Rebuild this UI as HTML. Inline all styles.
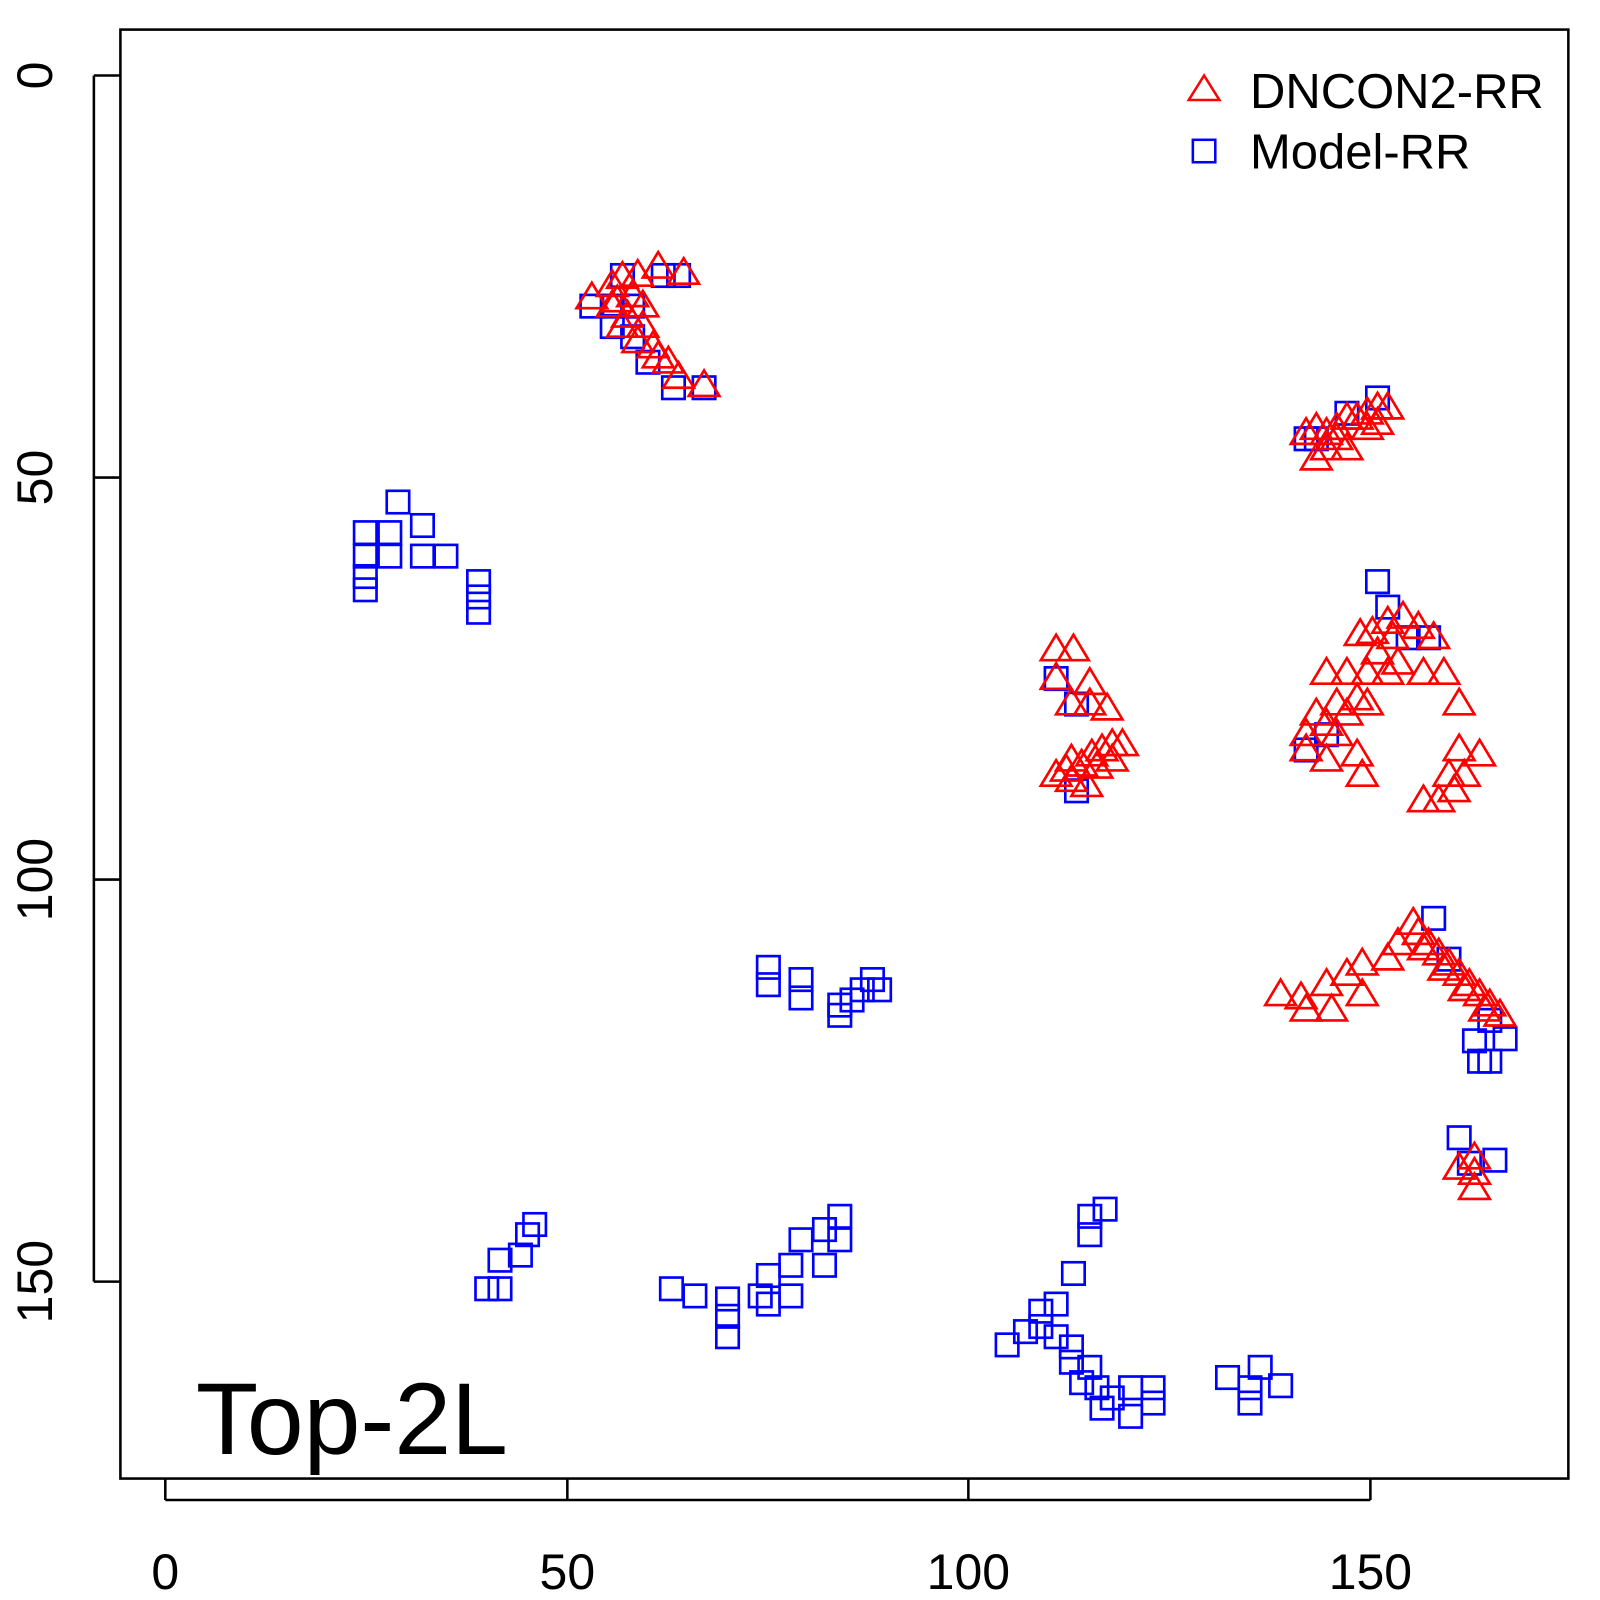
<!DOCTYPE html>
<html><head><style>body{margin:0;background:#fff}svg{display:block}</style></head>
<body>
<svg width="1600" height="1600" xmlns="http://www.w3.org/2000/svg" font-family="Liberation Sans, sans-serif">
<g transform="scale(1.0204)">
<rect x="118" y="29" width="1419" height="1420" fill="none" stroke="#000" stroke-width="2.5"/>
<g stroke="#000" stroke-width="2.5">
<line x1="162" y1="1449" x2="162" y2="1470"/><line x1="556" y1="1449" x2="556" y2="1470"/><line x1="949" y1="1449" x2="949" y2="1470"/><line x1="1343" y1="1449" x2="1343" y2="1470"/>
<line x1="162" y1="1470" x2="1343" y2="1470"/>
<line x1="118" y1="74" x2="92" y2="74"/><line x1="118" y1="468" x2="92" y2="468"/><line x1="118" y1="862" x2="92" y2="862"/><line x1="118" y1="1256" x2="92" y2="1256"/>
<line x1="92" y1="74" x2="92" y2="1256"/>
</g>
<g font-size="49" text-anchor="middle">
<text x="162" y="1557">0</text><text x="556" y="1557">50</text><text x="949" y="1557">100</text><text x="1343" y="1557">150</text>
<text transform="translate(51,74) rotate(-90)">0</text>
<text transform="translate(51,468) rotate(-90)">50</text>
<text transform="translate(51,862) rotate(-90)">100</text>
<text transform="translate(51,1256) rotate(-90)">150</text>
</g>
<text x="192" y="1425" font-size="100">Top-2L</text>
<polygon points="1180,74 1165,98 1195,98" fill="none" stroke="#f00" stroke-width="2.5"/>
<text x="1225" y="106" font-size="48">DNCON2-RR</text>
<rect x="1169" y="137" width="22" height="22" fill="none" stroke="#00f" stroke-width="2.5"/>
<text x="1225" y="165" font-size="48">Model-RR</text>
<g id="sq" fill="none" stroke="#00f" stroke-width="2.6"></g>
<g id="tr" fill="none" stroke="#f00" stroke-width="2.6"></g>
</g>
</svg>
<script>
var sq=[[580,300],[610,270],[650,270],[665,270],[600,320],[620,330],[635,355],[660,380],[690,380],[600,300],[620,300],
[358,522],[358,545],[358,565],[358,578],[382,522],[382,545],[390,492],[414,515],[414,545],[437,545],[469,570],[469,585],[469,600],
[1350,390],[1320,405],[1290,430],[1280,430],[1035,665],[1055,690],[1055,775],
[1350,570],[1360,595],[1380,625],[1400,625],[1280,735],[1300,720],
[1405,900],[1420,940],[1445,1020],[1460,1040],[1475,1018],[1450,1040],[1460,1000],[1430,1115],[1440,1140],[1465,1137],
[753,948],[753,965],[785,960],[785,978],[823,985],[823,995],[835,980],[845,970],[855,960],[862,970],
[477,1263],[490,1263],[490,1235],[510,1230],[517,1210],[524,1200],[658,1263],[681,1270],[713,1273],[713,1290],[713,1310],[745,1270],[753,1250],[753,1278],[775,1270],[775,1240],[785,1215],[808,1205],[808,1240],[823,1192],[823,1215],
[987,1318],[1005,1305],[1020,1300],[1020,1285],[1035,1278],[1035,1310],[1050,1320],[1050,1335],[1068,1340],[1068,1210],[1068,1192],[1083,1185],[1052,1248],[1060,1355],[1075,1360],[1090,1370],[1108,1360],[1108,1388],[1130,1360],[1130,1375],[1203,1350],[1225,1360],[1225,1375],[1235,1340],[1255,1358],[1080,1380]];
var tr=[[580,292],[610,272],[625,270],[645,262],[670,268],[600,300],[615,310],[630,320],[640,340],[655,355],[665,370],[690,378],[600,280],[620,290],[605,295],[630,300],[610,320],[625,335],[645,350],
[1280,425],[1290,420],[1300,425],[1310,420],[1320,410],[1330,410],[1340,405],[1350,400],[1360,400],[1290,450],[1320,440],[1300,440],[1340,420],[1310,430],[1350,415],
[1035,637],[1052,637],[1035,665],[1068,670],[1050,690],[1068,690],[1085,695],[1035,760],[1050,765],[1060,750],[1070,740],[1080,735],[1090,730],[1100,730],[1050,745],[1065,770],[1045,755],[1075,752],[1090,745],
[1333,622],[1345,620],[1360,610],[1375,605],[1390,615],[1405,625],[1300,660],[1320,660],[1340,660],[1360,660],[1395,660],[1415,660],[1430,690],[1280,720],[1300,710],[1310,690],[1320,700],[1330,685],[1340,690],[1300,745],[1335,760],[1330,740],[1280,735],[1395,785],[1410,785],[1425,775],[1435,760],[1450,740],[1430,735],[1420,760],[1365,625],[1350,640],[1370,650],[1310,720],[1290,700],
[1255,975],[1275,978],[1300,965],[1320,955],[1335,945],[1360,940],[1370,925],[1385,905],[1390,915],[1400,925],[1410,935],[1420,945],[1430,955],[1440,965],[1450,975],[1460,985],[1470,995],[1335,975],[1305,990],[1280,990],[1395,930],[1415,950],[1435,970],[1455,990],
[1445,1135],[1445,1150],[1445,1165],[1430,1145]];
var ns="http://www.w3.org/2000/svg",g=document.getElementById("sq"),h=document.getElementById("tr");
sq.forEach(function(p){var r=document.createElementNS(ns,"rect");r.setAttribute("x",p[0]-11);r.setAttribute("y",p[1]-11);r.setAttribute("width",22);r.setAttribute("height",22);g.appendChild(r);});
tr.forEach(function(p){var r=document.createElementNS(ns,"polygon");r.setAttribute("points",p[0]+","+(p[1]-15)+" "+(p[0]-15)+","+(p[1]+10)+" "+(p[0]+15)+","+(p[1]+10));h.appendChild(r);});
</script>
</body></html>
